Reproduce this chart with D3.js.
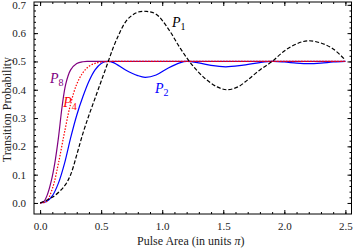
<!DOCTYPE html>
<html>
<head>
<meta charset="utf-8">
<title>transition probability</title>
<script src="https://d3js.org/d3.v7.min.js"></script>
<style>
body { margin: 0; background: white; }
text { font-family: "Liberation Serif", "DejaVu Serif", serif; }
.axis path { stroke: #000; }
.axis line { stroke: #000; }
</style>
</head>
<body>
<svg id="chart" width="353" height="249"></svg>
<script>
// values, pulse area (units of pi) -> probability
var pulseArea1 = [0, 0.1, 0.2, 0.25, 0.3, 0.35, 0.4, 0.45, 0.5, 0.55, 0.6, 0.65, 0.7, 0.75, 0.8, 0.87, 0.95, 1.05, 1.15, 1.25, 1.35, 1.45, 1.53, 1.62, 1.7, 1.8, 1.9, 2.0, 2.1, 2.19, 2.3, 2.4, 2.5];
var prob1 = [0, 0.02, 0.06, 0.1, 0.17, 0.245, 0.31, 0.37, 0.43, 0.49, 0.55, 0.6, 0.64, 0.662, 0.674, 0.677, 0.667, 0.615, 0.545, 0.485, 0.44, 0.41, 0.4, 0.41, 0.435, 0.47, 0.5, 0.537, 0.562, 0.573, 0.565, 0.544, 0.505];

var pulseArea2 = [0, 0.05, 0.1, 0.15, 0.2, 0.25, 0.3, 0.35, 0.4, 0.45, 0.5, 0.55, 0.6, 0.7, 0.8, 0.86, 0.95, 1.05, 1.15, 1.2, 1.3, 1.4, 1.52, 1.65, 1.8, 1.9, 2.0, 2.1, 2.2, 2.3, 2.4, 2.5];
var prob2 = [0, 0.004, 0.025, 0.07, 0.14, 0.23, 0.31, 0.375, 0.43, 0.47, 0.493, 0.5, 0.496, 0.47, 0.45, 0.444, 0.452, 0.477, 0.496, 0.5, 0.495, 0.486, 0.481, 0.486, 0.496, 0.5, 0.498, 0.494, 0.492, 0.494, 0.498, 0.5];

var pulseArea4 = [0, 0.05, 0.1, 0.15, 0.2, 0.25, 0.3, 0.35, 0.4, 0.45, 0.5, 0.6, 0.8, 1.0, 1.5, 2.0, 2.5];
var prob4 = [0, 0.005, 0.05, 0.14, 0.25, 0.35, 0.42, 0.46, 0.483, 0.493, 0.498, 0.5, 0.5, 0.5, 0.5, 0.5, 0.5];

var pulseArea8 = [0, 0.03, 0.06, 0.09, 0.12, 0.15, 0.18, 0.21, 0.25, 0.3, 0.35, 0.4, 0.6, 1.0, 1.5, 2.0, 2.5];
var prob8 = [0, 0.005, 0.03, 0.075, 0.14, 0.23, 0.34, 0.42, 0.47, 0.493, 0.499, 0.5, 0.5, 0.5, 0.5, 0.5, 0.5];

var xTicks = [0, 0.5, 1.0, 1.5, 2.0, 2.5];
var yTicks = [0, 0.1, 0.2, 0.3, 0.4, 0.5, 0.6, 0.7];

var svg = d3.select('#chart');
var mLeft = 34, mRight = 351.5, mTop = 2, mBottom = 214;

var x = d3.scaleLinear().domain([-0.05, 2.55]).range([mLeft, mRight]);
var y = d3.scaleLinear().domain([-0.039, 0.71]).range([mBottom, mTop]);

var fmt = d3.format('.1f');
var xMinor = d3.range(0, 2.501, 0.1);
var yMinor = d3.range(0, 0.701, 0.02);

// frame
svg.append('rect')
    .attr('x', mLeft).attr('y', mTop)
    .attr('width', mRight - mLeft).attr('height', mBottom - mTop)
    .style('fill', 'none').style('stroke', '#000').style('stroke-width', 1);

function tickAxis(axis, pos, minor, major, labels) {
    var g = svg.append('g').attr('class', 'axis').attr('transform', pos);
    g.call(axis.tickValues(minor).tickSizeInner(-2).tickSizeOuter(0).tickFormat(''));
    g.select('.domain').remove();
    var g2 = svg.append('g').attr('class', 'axis').attr('transform', pos);
    g2.call(axis.tickValues(major).tickSizeInner(-4).tickSizeOuter(0).tickPadding(labels ? 8 : 0).tickFormat(labels ? fmt : ''));
    g2.select('.domain').remove();
    g2.selectAll('text').style('font-size', '11px').style('fill', '#222');
}
tickAxis(d3.axisBottom(x), 'translate(0,' + mBottom + ')', xMinor, xTicks, true);
tickAxis(d3.axisTop(x), 'translate(0,' + mTop + ')', xMinor, xTicks, false);
tickAxis(d3.axisLeft(y), 'translate(' + mLeft + ',0)', yMinor, yTicks, true);
tickAxis(d3.axisRight(y), 'translate(' + mRight + ',0)', yMinor, yTicks, false);

var line = d3.line()
    .x(function(d) { return x(d[0]); })
    .y(function(d) { return y(d[1]); })
    .curve(d3.curveCatmullRom);

function curve(us, ps, color, dash) {
    svg.append('path')
        .datum(d3.zip(us, ps))
        .attr('d', line)
        .style('fill', 'none')
        .style('stroke', color)
        .style('stroke-width', 1.2)
        .style('stroke-dasharray', dash);
}
curve(pulseArea2, prob2, '#0000ff', null);
curve(pulseArea8, prob8, '#800080', null);
curve(pulseArea4, prob4, '#ff0000', '1.5,1.5');
curve(pulseArea1, prob1, '#000000', '4,2');

// curve labels
function label(px, py, sub, color) {
    var t = svg.append('text').attr('x', px).attr('y', py)
        .style('fill', color).style('font-size', '14px');
    t.append('tspan').style('font-style', 'italic').text('P');
    t.append('tspan').attr('dy', 3).style('font-size', '10px').text(sub);
}
label(x(1.08), y(0.62), '1', '#000');
label(x(0.94), y(0.39), '2', '#0000ff');
label(x(0.19), y(0.34), '4', '#ff0000');
label(x(0.08), y(0.425), '8', '#800080');

// axis titles
svg.append('text')
    .attr('x', (mLeft + mRight) / 2 - 2).attr('y', 245)
    .attr('text-anchor', 'middle')
    .style('font-size', '12px').style('fill', '#222')
    .html('Pulse Area (in units <tspan style="font-style:italic">π</tspan>)');
svg.append('text')
    .attr('transform', 'translate(11,' + y(0.33) + ') rotate(-90)')
    .attr('text-anchor', 'middle')
    .style('font-size', '12px').style('fill', '#222')
    .text('Transition Probability');
</script>
</body>
</html>
